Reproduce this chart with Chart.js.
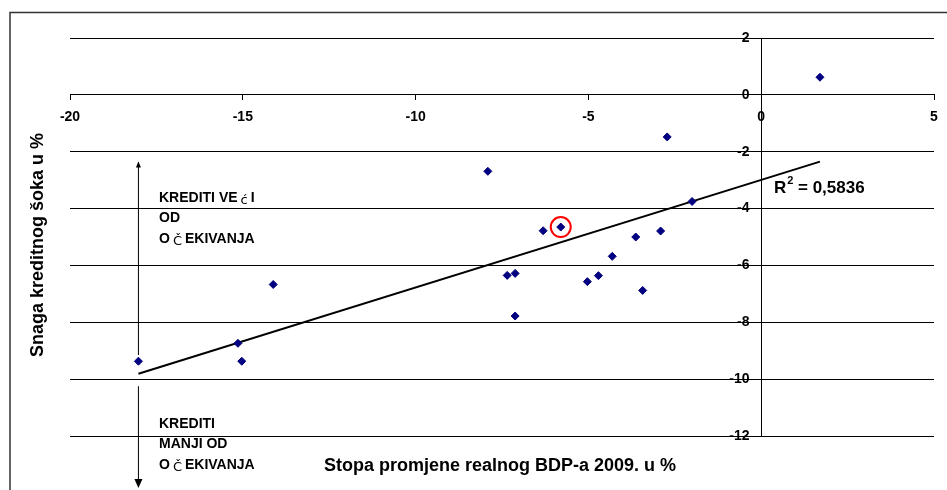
<!DOCTYPE html>
<html>
<head>
<meta charset="utf-8">
<script src="https://cdn.jsdelivr.net/npm/chart.js@4.4.0/dist/chart.umd.min.js"></script>
<style>
    html, body { margin: 0; padding: 0; background: #fff; }
    #wrap { width: 947px; height: 490px; }
</style>
</head>
<body>
<div id="wrap"><canvas id="credit-chart" width="947" height="490"></canvas></div>
<script>
// Real GDP growth 2009 (%) vs. credit shock strength (%)
const gdpGrowth   = [1.70, -2.72, -7.91, -6.31, -5.80, -7.35, -7.12, -7.12, -5.03, -4.71, -4.31, -3.63, -3.43, -2.91, -2.00, -18.02, -15.14, -15.03, -14.12];
const creditShock = [0.62, -1.48, -2.69, -4.78, -4.65, -6.35, -6.28, -7.78, -6.57, -6.36, -5.68, -5.00, -6.88, -4.79, -3.75, -9.37, -8.74, -9.37, -6.67];

// Highlighted (circled) country
const highlightIndex = 4;

// Linear trend, end points
const trendX = [-18.02, 1.70];
const trendY = [-9.81, -2.35];
const rSquared = '0,5836';

// Axis ticks
const xTicks = [-20, -15, -10, -5, 0, 5];
const yTicks = [2, 0, -2, -4, -6, -8, -10, -12];

const FONT = '"Liberation Sans", Arial, sans-serif';

const points = gdpGrowth.map((x, i) => ({ x: x, y: creditShock[i] }));
const trend = trendX.map((x, i) => ({ x: x, y: trendY[i] }));

/**
 * Draw a line of text made of parts (the Croatian letters were rendered
 * in a smaller, regular fallback font in the original)
 */
function drawParts(ctx, parts, x, y) {
    let cx = x;
    parts.forEach(p => {
        ctx.font = p.special ? '13px "DejaVu Sans", sans-serif' : 'bold 14px ' + FONT;
        const gap = p.special ? 3 : 0;
        cx += gap;
        ctx.fillText(p.t, cx, y + (p.special ? 3 : 0));
        cx += ctx.measureText(p.t).width + gap;
    });
}

function arrow(ctx, x, y1, y2, head) {
    ctx.beginPath();
    ctx.moveTo(x, y1);
    ctx.lineTo(x, y2);
    ctx.stroke();
    const dir = y2 > y1 ? 1 : -1;
    ctx.beginPath();
    ctx.moveTo(x, y2 + dir * 1);
    ctx.lineTo(x - head / 2, y2 - dir * head);
    ctx.lineTo(x + head / 2, y2 - dir * head);
    ctx.closePath();
    ctx.fill();
}

const annotationPlugin = {
    id: 'annotations',
    afterDraw(chart) {
        const ctx = chart.ctx;
        const xs = chart.scales.x;
        const ys = chart.scales.y;
        ctx.save();

        // outer frame (left and top edges visible)
        ctx.strokeStyle = '#333';
        ctx.lineWidth = 1.5;
        ctx.beginPath();
        ctx.moveTo(10, 492);
        ctx.lineTo(10, 12.5);
        ctx.lineTo(949, 12.5);
        ctx.stroke();

        ctx.fillStyle = '#000';
        ctx.strokeStyle = '#000';
        ctx.lineWidth = 1;

        // axis titles
        ctx.font = 'bold 18px ' + FONT;
        ctx.textAlign = 'center';
        ctx.textBaseline = 'middle';
        ctx.fillText('Stopa promjene realnog BDP-a 2009. u %', 500, 466);
        ctx.save();
        ctx.translate(38, 245);
        ctx.rotate(-Math.PI / 2);
        ctx.fillText('Snaga kreditnog šoka u %', 0, 0);
        ctx.restore();

        // R squared
        ctx.textAlign = 'left';
        ctx.font = 'bold 17px ' + FONT;
        const rx = xs.getPixelForValue(0.37);
        const ry = ys.getPixelForValue(-3.28);
        ctx.fillText('R', rx, ry);
        const rw = ctx.measureText('R').width;
        ctx.font = 'bold 11px ' + FONT;
        ctx.fillText('2', rx + rw + 1, ry - 7);
        ctx.font = 'bold 17px ' + FONT;
        ctx.fillText(' = ' + rSquared, rx + rw + 7, ry);

        // arrows
        const ax = xs.getPixelForValue(-18.02);
        arrow(ctx, ax, ys.getPixelForValue(-9.15), ys.getPixelForValue(-2.38), 5);
        arrow(ctx, ax, ys.getPixelForValue(-10.25), 487, 8);

        // region labels
        const lx = 159;
        drawParts(ctx, [{ t: 'KREDITI VE' }, { t: 'ć', special: true }, { t: 'I' }], lx, 198);
        drawParts(ctx, [{ t: 'OD' }], lx, 218);
        drawParts(ctx, [{ t: 'O' }, { t: 'Č', special: true }, { t: 'EKIVANJA' }], lx, 239);
        drawParts(ctx, [{ t: 'KREDITI' }], lx, 424);
        drawParts(ctx, [{ t: 'MANJI OD' }], lx, 444);
        drawParts(ctx, [{ t: 'O' }, { t: 'Č', special: true }, { t: 'EKIVANJA' }], lx, 465);

        ctx.restore();
    }
};

new Chart(document.getElementById('credit-chart'), {
    type: 'scatter',
    data: {
        datasets: [
            {
                label: 'Highlight',
                data: [points[highlightIndex]],
                pointStyle: 'circle',
                pointRadius: 10,
                borderColor: '#FF0000',
                backgroundColor: 'rgba(0,0,0,0)',
                borderWidth: 2,
                order: 0
            },
            {
                label: 'Zemlje',
                data: points,
                pointStyle: 'rectRot',
                pointRadius: 4,
                backgroundColor: '#000080',
                borderColor: '#000080',
                borderWidth: 1,
                order: 1
            },
            {
                type: 'line',
                label: 'Trend',
                data: trend,
                borderColor: '#000',
                borderWidth: 2,
                pointRadius: 0,
                fill: false,
                order: 2
            }
        ]
    },
    options: {
        responsive: false,
        animation: false,
        devicePixelRatio: 1,
        layout: {
            padding: { left: 70, top: 38, right: 13, bottom: 54 }
        },
        plugins: {
            legend: { display: false },
            tooltip: { enabled: false }
        },
        scales: {
            x: {
                type: 'linear',
                position: { y: 0 },
                min: xTicks[0],
                max: xTicks[xTicks.length - 1],
                afterBuildTicks: (scale) => { scale.ticks = xTicks.map(v => ({ value: v })); },
                grid: {
                    drawOnChartArea: false,
                    drawTicks: true,
                    tickLength: 5,
                    color: '#000'
                },
                border: { display: true, color: '#000', width: 1 },
                ticks: {
                    color: '#000',
                    padding: 9,
                    maxRotation: 0,
                    font: { family: FONT, size: 14, weight: 'bold' }
                }
            },
            y: {
                type: 'linear',
                position: { x: 0 },
                min: yTicks[yTicks.length - 1],
                max: yTicks[0],
                afterBuildTicks: (scale) => { scale.ticks = yTicks.slice().reverse().map(v => ({ value: v })); },
                grid: {
                    drawOnChartArea: true,
                    drawTicks: true,
                    tickLength: 4,
                    color: '#000'
                },
                border: { display: true, color: '#000', width: 1 },
                ticks: {
                    color: '#000',
                    // labels sit against a centred axis; trailing spaces push them off the line
                    callback: (value) => value + '   ',
                    font: { family: FONT, size: 14, weight: 'bold' }
                }
            }
        }
    },
    plugins: [annotationPlugin]
});
</script>
</body>
</html>
